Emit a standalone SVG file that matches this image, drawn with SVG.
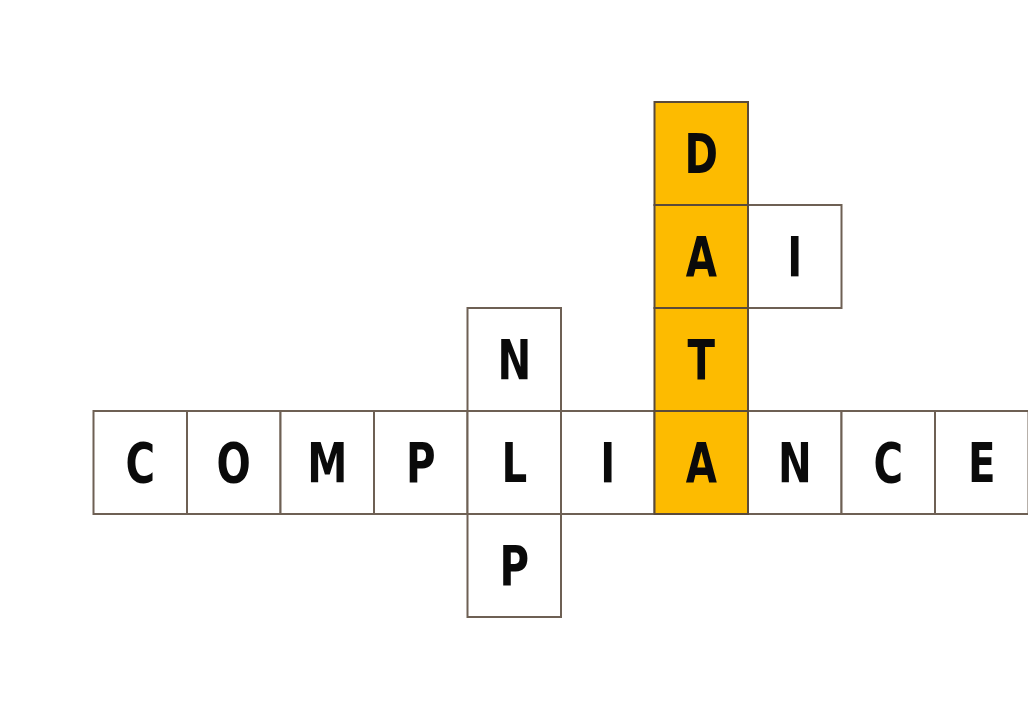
<svg xmlns="http://www.w3.org/2000/svg" width="1028" height="720" viewBox="0 0 1028 720">
<style>
.c{fill:#ffffff;stroke:#6e6054;stroke-width:2}
.y{fill:#fdbb00;stroke:#5a4a3a;stroke-width:2}
text{font-family:"DejaVu Sans Condensed","Liberation Sans Narrow","Liberation Sans",sans-serif;font-weight:bold;font-size:56px;fill:#0a0a0a;text-anchor:middle}
</style>
<rect width="1028" height="720" fill="#ffffff"/>
<g id="across">
<g id="c1"><rect class="c" x="93.5" y="411" width="93.5" height="103"/><text transform="translate(140.25 482) scale(0.8 1)">C</text></g>
<g id="c2"><rect class="c" x="187" y="411" width="93.5" height="103"/><text transform="translate(233.75 482) scale(0.8 1)">O</text></g>
<g id="c3"><rect class="c" x="280.5" y="411" width="93.5" height="103"/><text transform="translate(327.25 482) scale(0.8 1)">M</text></g>
<g id="c4"><rect class="c" x="374" y="411" width="93.5" height="103"/><text transform="translate(420.75 482) scale(0.8 1)">P</text></g>
<g id="c5"><rect class="c" x="467.5" y="411" width="93.5" height="103"/><text transform="translate(514.25 482) scale(0.8 1)">L</text></g>
<g id="c6"><rect class="c" x="561" y="411" width="93.5" height="103"/><text transform="translate(607.75 482) scale(0.8 1)">I</text></g>
<g id="c8"><rect class="c" x="748" y="411" width="93.5" height="103"/><text transform="translate(794.75 482) scale(0.8 1)">N</text></g>
<g id="c9"><rect class="c" x="841.5" y="411" width="93.5" height="103"/><text transform="translate(888.25 482) scale(0.8 1)">C</text></g>
<g id="c10"><rect class="c" x="935" y="411" width="93.5" height="103"/><text transform="translate(981.75 482) scale(0.8 1)">E</text></g>
</g>
<g id="nlp">
<g id="n1"><rect class="c" x="467.5" y="308" width="93.5" height="103"/><text transform="translate(514.25 379) scale(0.8 1)">N</text></g>
<g id="n3"><rect class="c" x="467.5" y="514" width="93.5" height="103"/><text transform="translate(514.25 585) scale(0.8 1)">P</text></g>
</g>
<g id="ai">
<g id="a2"><rect class="c" x="748" y="205" width="93.5" height="103"/><text transform="translate(794.75 276) scale(0.8 1)">I</text></g>
</g>
<g id="data">
<g id="d1"><rect class="y" x="654.5" y="102" width="93.5" height="103"/><text transform="translate(701.25 173) scale(0.8 1)">D</text></g>
<g id="d2"><rect class="y" x="654.5" y="205" width="93.5" height="103"/><text transform="translate(701.25 276) scale(0.8 1)">A</text></g>
<g id="d3"><rect class="y" x="654.5" y="308" width="93.5" height="103"/><text transform="translate(701.25 379) scale(0.8 1)">T</text></g>
<g id="d4"><rect class="y" x="654.5" y="411" width="93.5" height="103"/><text transform="translate(701.25 482) scale(0.8 1)">A</text></g>
</g>
<g id="connectors"></g>
</svg>
